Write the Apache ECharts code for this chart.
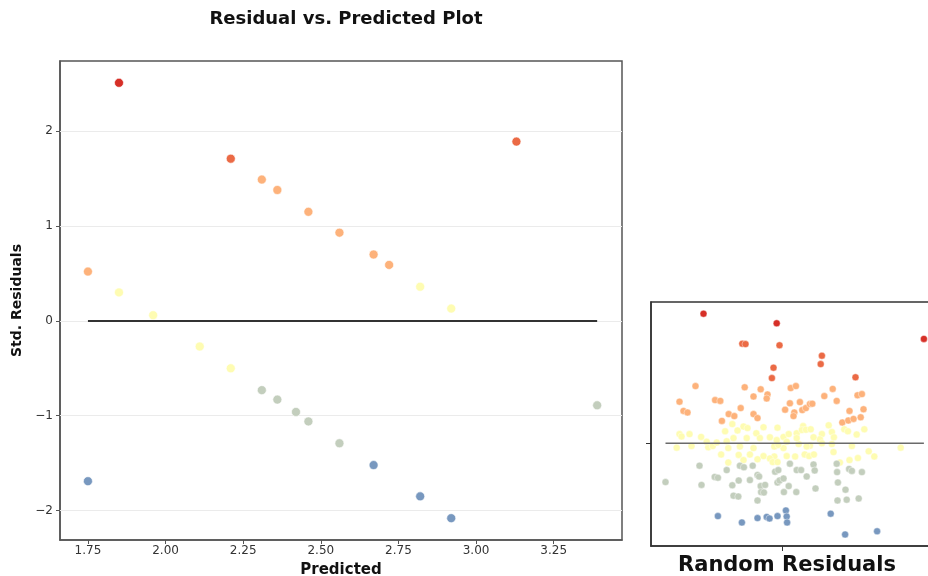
<!DOCTYPE html>
<html>
<head>
<meta charset="utf-8">
<script src="https://cdn.jsdelivr.net/npm/echarts@6/dist/echarts.min.js"></script>
<style>html,body{margin:0;padding:0;background:#fff}#c{width:928px;height:576px}</style>
</head>
<body>
<div id="c"></div>
<script>
// ---- main chart data ----
var predicted = [1.75,1.75,1.85,1.85,1.96,2.11,2.21,2.21,2.31,2.31,2.36,2.36,2.42,2.46,2.46,2.56,2.56,2.67,2.67,2.72,2.82,2.82,2.92,2.92,3.13,3.39];
var stdResiduals = [0.52,-1.69,2.51,0.30,0.06,-0.27,1.71,-0.50,1.49,-0.73,1.38,-0.83,-0.96,1.15,-1.06,0.93,-1.29,0.70,-1.52,0.59,0.36,-1.85,0.13,-2.08,1.89,-0.89];
var xTicks = [1.75,2.00,2.25,2.50,2.75,3.00,3.25];
var yTicks = [-2,-1,0,1,2];

// ---- inset (random residuals) data ----
var randX = [
-1.98,-0.15,3.53,
-1.01,-0.93,-0.08,0.98,0.95,-0.23,-0.27,1.82,
-2.18,-0.95,-0.55,0.20,0.33,1.25,-2.58,-1.69,-1.56,-0.73,-0.38,-0.40,1.04,1.35,1.87,1.98,-2.48,-2.38,-1.05,-1.35,-1.21,-0.73,-0.63,0.06,0.18,0.43,0.29,0.27,0.49,0.58,0.68,0.74,1.67,2.02,-1.52,1.49,1.64,1.77,1.95,
-1.26,-0.98,-0.13,0.51,1.15,1.23,1.54,1.63,2.04,-2.58,-2.33,-2.53,-2.04,-1.44,-1.13,-0.88,-0.66,-0.48,0.02,0.15,0.35,0.48,0.58,0.70,0.98,0.93,1.28,-2.65,-2.28,-1.86,-1.75,-1.36,-1.07,-0.73,-0.21,0.02,-0.11,0.40,0.68,1.23,1.73,2.15,2.95,-1.54,-1.10,-0.82,-0.48,-0.21,0.10,0.31,0.55,0.66,0.78,1.27,1.67,1.88,2.29,-1.36,-0.98,-0.63,-0.32,-0.25,-0.13,1.43,-1.23,-0.90,-1.65,0.35,0.77,1.85,-0.32,-0.15,0.60,-0.57,-1.40,-1.90,0.10,0.98,
-2.08,-2.03,-2.93,-1.70,-1.62,-1.26,-1.10,-1.07,-0.97,-0.75,-0.63,-0.59,-0.55,-0.44,-0.54,-0.47,-0.63,-1.23,-1.11,-0.13,-0.08,0.02,-0.19,0.03,0.34,0.18,0.35,0.46,0.15,0.77,0.80,0.82,1.35,1.36,1.38,1.57,1.37,1.60,1.90,1.66,1.73,1.98,-0.11,-0.82,-1.40,0.60,
-1.62,-1.02,-0.63,-0.40,-0.33,-0.13,0.08,0.10,0.11,1.20,1.56,2.36
];
var randY = [
3.24,3.00,2.61,
2.49,2.48,2.45,2.19,1.98,1.89,1.63,1.65,
1.43,1.40,1.35,1.38,1.43,1.36,1.04,1.08,1.06,1.17,1.22,1.12,1.18,1.06,1.20,1.23,0.81,0.77,0.88,0.73,0.68,0.73,0.63,0.84,1.00,1.03,0.77,0.68,0.83,0.88,0.98,0.99,0.81,0.85,0.56,0.52,0.57,0.61,0.65,
0.48,0.42,0.39,0.43,0.45,0.28,0.35,0.30,0.35,0.23,0.23,0.17,0.16,0.30,0.32,0.38,0.25,0.40,0.16,0.23,0.25,0.33,0.34,0.35,0.23,0.10,0.15,-0.11,-0.07,-0.10,-0.07,-0.12,-0.08,-0.12,-0.08,-0.12,-0.04,-0.02,-0.06,-0.02,-0.07,-0.20,-0.11,-0.28,-0.29,-0.28,-0.32,-0.33,-0.32,-0.33,-0.28,-0.32,-0.28,-0.22,-0.42,-0.37,-0.33,-0.48,-0.42,-0.40,-0.38,-0.47,-0.47,-0.48,0.13,0.13,0.02,0.13,0.15,0.22,0.15,0.08,-0.08,0.13,0.05,0.04,0.04,0.00,
-0.56,-1.04,-0.97,-0.84,-0.86,-1.05,-0.93,-0.56,-0.60,-0.56,-0.79,-0.83,-1.07,-1.04,-1.22,-1.23,-1.43,-1.31,-1.33,-0.98,-0.93,-0.88,-0.71,-1.22,-1.22,-0.51,-0.67,-0.67,-1.07,-0.53,-0.68,-1.13,-0.51,-0.72,-0.98,-1.16,-1.43,-1.41,-1.38,-0.64,-0.69,-0.72,-0.67,-0.92,-0.67,-0.83,
-1.82,-1.98,-1.87,-1.84,-1.88,-1.82,-1.68,-1.83,-1.98,-1.76,-2.28,-2.20
];

var C_RED = '#d62f27', C_ORRED = '#eb6a45', C_LORANGE = '#fdb27b', C_YELLOW = '#fefcb2', C_GREY = '#c3cebd', C_BLUE = '#7898bf';
function bandColor(v){
  if (v >= 2.5) return C_RED;
  if (v >= 1.5) return C_ORRED;
  if (v >= 0.5) return C_LORANGE;
  if (v >= -0.5) return C_YELLOW;
  if (v >= -1.5) return C_GREY;
  return C_BLUE;
}

var mainPts = predicted.map(function(x,i){ return [x, stdResiduals[i]]; });
var randPts = randX.map(function(x,i){ return [x, randY[i]]; });
var pMin = Math.min.apply(null, predicted), pMax = Math.max.apply(null, predicted);
var rMin = Math.min.apply(null, randX), rMax = Math.max.apply(null, randX);

var FONT = 'DejaVu Sans';
var chart = echarts.init(document.getElementById('c'), null, {renderer:'canvas'});
chart.setOption({
  animation: false,
  backgroundColor: '#ffffff',
  textStyle: {fontFamily: FONT},
  title: [
    {text: 'Residual vs. Predicted Plot', left: 341, top: 5, textAlign: 'center',
     textStyle: {fontFamily: FONT, fontWeight: 'bold', fontSize: 18, color: '#111'}},
    {text: 'Random Residuals', left: 782, top: 550, textAlign: 'center',
     textStyle: {fontFamily: FONT, fontWeight: 'bold', fontSize: 21, color: '#111'}}
  ],
  grid: [
    {left: 60, top: 61, width: 562, height: 479, show: true, borderColor: '#555', borderWidth: 1.5, backgroundColor: '#fff', outerBoundsMode: 'none', containLabel: false},
    {left: 651, top: 302, width: 290, height: 244, show: true, borderColor: '#333', borderWidth: 1.5, backgroundColor: '#fff', outerBoundsMode: 'none', containLabel: false}
  ],
  xAxis: [
    {type: 'value', gridIndex: 0, min: 1.66, max: 3.47,
     name: 'Predicted', nameLocation: 'middle', nameGap: 23,
     nameTextStyle: {fontFamily: FONT, fontWeight: 'bold', fontSize: 15, color: '#111'},
     axisLine: {show: true, onZero: false, lineStyle: {color: '#555', width: 1.5}},
     axisTick: {show: true, inside: false, length: 4, customValues: xTicks, lineStyle: {color: '#555'}},
     axisLabel: {customValues: xTicks, fontFamily: FONT, fontSize: 12, color: '#333', margin: 5,
       formatter: function(v){ return v.toFixed(2); }},
     splitLine: {show: false}},
    {type: 'value', gridIndex: 1, min: -3.2925, max: 3.9575,
     axisLine: {show: true, onZero: false, lineStyle: {color: '#333', width: 1.5}},
     axisTick: {show: true, inside: false, length: 5, customValues: [0], lineStyle: {color: '#333'}},
     axisLabel: {show: false},
     splitLine: {show: false}}
  ],
  yAxis: [
    {type: 'value', gridIndex: 0, min: -2.31, max: 2.74,
     name: 'Std. Residuals', nameLocation: 'middle', nameGap: 36, nameRotate: 90,
     nameTextStyle: {fontFamily: FONT, fontWeight: 'bold', fontSize: 14, color: '#111'},
     axisLine: {show: true, onZero: false, lineStyle: {color: '#555', width: 1.5}},
     axisTick: {show: true, inside: false, length: 4, customValues: yTicks, lineStyle: {color: '#555'}},
     axisLabel: {customValues: yTicks, fontFamily: FONT, fontSize: 12, color: '#333', margin: 7,
       formatter: function(v){ return String(v).replace('-', '\u2212'); }},
     splitLine: {show: false}},
    {type: 'value', gridIndex: 1, min: -2.5675, max: 3.5325,
     axisLine: {show: true, onZero: false, lineStyle: {color: '#333', width: 1.5}},
     axisTick: {show: true, inside: false, length: 5, customValues: [0], lineStyle: {color: '#333'}},
     axisLabel: {show: false},
     splitLine: {show: false}}
  ],
  series: [
    {type: 'line', xAxisIndex: 0, yAxisIndex: 0, data: [], silent: true, z: 1,
     markLine: {symbol: 'none', silent: true, label: {show: false}, z: 1,
       lineStyle: {color: '#ebebeb', width: 1, type: 'solid'},
       data: yTicks.map(function(t){ return {yAxis: t}; })}},
    {type: 'line', xAxisIndex: 0, yAxisIndex: 0, data: [[pMin,0],[pMax,0]], symbol: 'none',
     lineStyle: {color: '#333333', width: 2}, z: 5},
    {type: 'scatter', xAxisIndex: 0, yAxisIndex: 0, data: mainPts, symbolSize: 9, z: 4,
     itemStyle: {color: function(p){ return bandColor(p.value[1]); }, borderColor: '#fff', borderWidth: 0.6, opacity: 1}},
    {type: 'scatter', xAxisIndex: 1, yAxisIndex: 1, data: randPts, symbolSize: 7, z: 4,
     itemStyle: {color: function(p){ return bandColor(p.value[1]); }, borderColor: '#fff', borderWidth: 0.4, opacity: 1}},
    {type: 'line', xAxisIndex: 1, yAxisIndex: 1, data: [[rMin,0],[rMax,0]], symbol: 'none',
     lineStyle: {color: '#6a6a6a', width: 1.6}, z: 5}
  ]
});
</script>
</body>
</html>
